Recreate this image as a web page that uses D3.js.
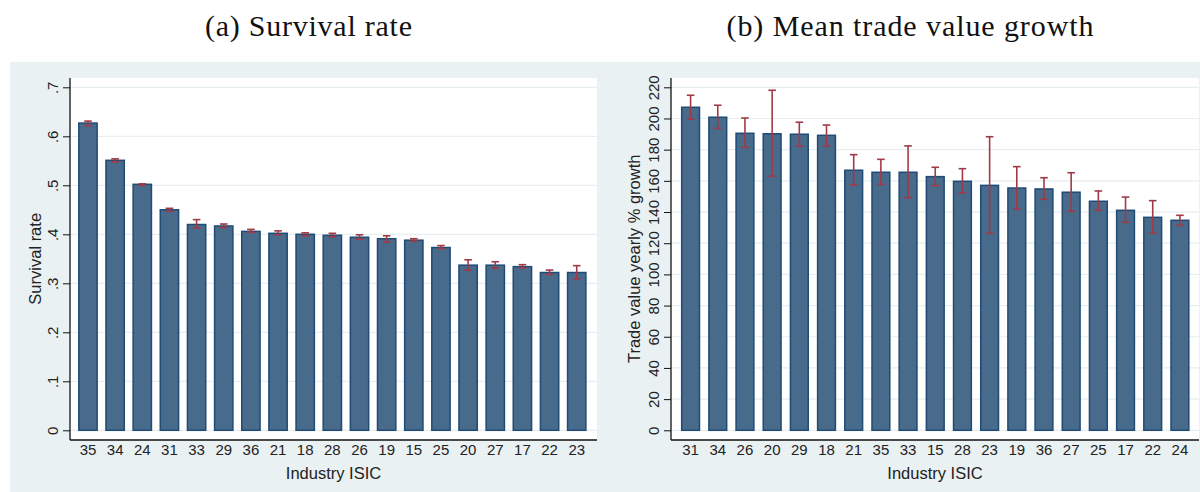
<!DOCTYPE html>
<html>
<head>
<meta charset="utf-8">
<script src="https://cdn.jsdelivr.net/npm/d3@7"></script>
<style>
  html, body { margin: 0; padding: 0; background: #ffffff; }
  svg { display: block; }
</style>
</head>
<body>
<svg id="chart" width="1200" height="492"></svg>
<script>
// Panel (a): survival rate by industry (ISIC), with 95% intervals
const survivalIndustries = ["35","34","24","31","33","29","36","21","18","28","26","19","15","25","20","27","17","22","23"];
const survivalRate  = [0.627,0.551,0.502,0.450,0.420,0.417,0.406,0.402,0.400,0.398,0.394,0.391,0.388,0.373,0.337,0.337,0.334,0.322,0.322];
const survivalLow   = [0.622,0.548,0.500,0.447,0.413,0.414,0.404,0.399,0.397,0.395,0.390,0.384,0.386,0.371,0.327,0.331,0.331,0.318,0.309];
const survivalHigh  = [0.631,0.554,0.503,0.453,0.430,0.421,0.410,0.407,0.403,0.402,0.399,0.397,0.391,0.377,0.348,0.344,0.338,0.327,0.336];
const survivalTicks = [0,0.1,0.2,0.3,0.4,0.5,0.6,0.7];

// Panel (b): mean yearly trade value growth by industry (ISIC), with 95% intervals
const growthIndustries = ["31","34","26","20","29","18","21","35","33","15","28","23","19","36","27","25","17","22","24"];
const growthMean  = [207.2,200.8,190.5,190.2,189.9,189.2,166.8,165.5,165.5,162.7,159.7,157.1,155.4,154.8,152.7,146.9,141.1,136.6,134.7];
const growthLow   = [199.5,193.7,181.5,162.9,182.4,182.4,157.5,157.8,149.2,156.9,152.2,126.4,141.9,148.2,140.5,141.1,133.4,126.4,131.5];
const growthHigh  = [214.9,208.5,200.3,218.1,197.6,195.8,176.8,173.8,182.4,168.7,167.8,188.3,169.1,162.0,165.2,153.5,149.6,147.3,137.9];
const growthTicks = [0,20,40,60,80,100,120,140,160,180,200,220];

const svg = d3.select("#chart");

const COLORS = {
  panel: "#eaf1f3",
  plot: "#ffffff",
  grid: "#e6eef1",
  barFill: "#486a8b",
  barStroke: "#1f4b74",
  ci: "#a13a47",
  text: "#222222",
  axis: "#111111"
};
const SANS = "'Liberation Sans', Arial, sans-serif";
const SERIF = "'Liberation Serif', 'Times New Roman', serif";

function drawPanel(cfg) {
  const g = svg.append("g");

  // panel background and plot region
  g.append("rect").attr("x", cfg.panel[0]).attr("y", cfg.panel[1])
    .attr("width", cfg.panel[2]).attr("height", cfg.panel[3]).attr("fill", COLORS.panel);
  g.append("rect").attr("x", cfg.plot[0]).attr("y", cfg.plot[1])
    .attr("width", cfg.plot[2]).attr("height", cfg.plot[3]).attr("fill", COLORS.plot);

  const x = d3.scaleBand().domain(cfg.cats).range(cfg.xRange)
    .paddingInner(cfg.pad).paddingOuter(cfg.pad / 2);
  const y = d3.scaleLinear().domain(cfg.yDomain).range(cfg.yRange);

  const left = cfg.plot[0];
  const right = cfg.plot[0] + cfg.plot[2];
  const bottom = cfg.plot[1] + cfg.plot[3];

  // horizontal gridlines
  g.append("g").selectAll("line").data(cfg.ticks).join("line")
    .attr("x1", left).attr("x2", right)
    .attr("y1", d => y(d)).attr("y2", d => y(d))
    .attr("stroke", COLORS.grid).attr("stroke-width", 1.2);

  // bars
  const rows = cfg.cats.map((c, i) => ({ c, v: cfg.values[i], lo: cfg.low[i], hi: cfg.high[i] }));
  g.append("g").selectAll("rect").data(rows).join("rect")
    .attr("x", d => x(d.c) + 0.75)
    .attr("y", d => y(d.v))
    .attr("width", x.bandwidth() - 1.5)
    .attr("height", d => y(0) - y(d.v))
    .attr("fill", COLORS.barFill)
    .attr("stroke", COLORS.barStroke)
    .attr("stroke-width", 1.5);

  // confidence intervals
  const ci = g.append("g").attr("stroke", COLORS.ci).attr("stroke-width", 1.6).attr("fill", "none");
  const cap = 3.8;
  rows.forEach(d => {
    const cx = x(d.c) + x.bandwidth() / 2;
    ci.append("line").attr("x1", cx).attr("x2", cx).attr("y1", y(d.lo)).attr("y2", y(d.hi));
    ci.append("line").attr("x1", cx - cap).attr("x2", cx + cap).attr("y1", y(d.lo)).attr("y2", y(d.lo));
    ci.append("line").attr("x1", cx - cap).attr("x2", cx + cap).attr("y1", y(d.hi)).attr("y2", y(d.hi));
  });

  // y axis with rotated tick labels
  const yAxis = g.append("g").attr("transform", `translate(${left},0)`)
    .call(d3.axisLeft(y).tickValues(cfg.ticks).tickSize(7).tickSizeOuter(0).tickFormat(cfg.fmt));
  yAxis.select(".domain").remove();
  yAxis.selectAll(".tick line").attr("stroke", COLORS.axis).attr("stroke-width", 1);
  yAxis.selectAll(".tick text")
    .attr("transform", "rotate(-90)")
    .attr("x", 0).attr("y", -12).attr("dy", null)
    .attr("text-anchor", "middle")
    .attr("font-family", SANS).attr("font-size", 15).attr("fill", COLORS.text);

  g.append("line").attr("x1", left).attr("x2", left)
    .attr("y1", cfg.plot[1]).attr("y2", bottom)
    .attr("stroke", COLORS.axis).attr("stroke-width", 1.3);

  // x axis
  const xAxis = g.append("g").attr("transform", `translate(0,${bottom})`)
    .call(d3.axisBottom(x).tickSize(0).tickSizeOuter(0));
  xAxis.select(".domain").remove();
  xAxis.selectAll(".tick text")
    .attr("y", 14.5).attr("dy", null)
    .attr("font-family", SANS).attr("font-size", 15).attr("fill", COLORS.text);
  g.append("line").attr("x1", left).attr("x2", right)
    .attr("y1", bottom).attr("y2", bottom)
    .attr("stroke", COLORS.axis).attr("stroke-width", 1.3);

  // axis titles
  g.append("text")
    .attr("x", (left + right) / 2).attr("y", 478.5)
    .attr("text-anchor", "middle")
    .attr("font-family", SANS).attr("font-size", 16.5).attr("fill", COLORS.text)
    .text("Industry ISIC");
  g.append("text")
    .attr("transform", `translate(${cfg.yTitleX},${(cfg.yRange[0] + cfg.yRange[1]) / 2}) rotate(-90)`)
    .attr("text-anchor", "middle")
    .attr("font-family", SANS).attr("font-size", 16.5).attr("fill", COLORS.text)
    .text(cfg.yTitle);

  // panel caption
  svg.append("text")
    .attr("x", cfg.caption[0]).attr("y", 36)
    .attr("text-anchor", "middle")
    .attr("font-family", SERIF).attr("font-size", 30).attr("fill", "#111")
    .attr("textLength", cfg.caption[1]).attr("lengthAdjust", "spacing")
    .text(cfg.title);
}

drawPanel({
  title: "(a) Survival rate",
  caption: [308.5, 207],
  panel: [10, 62, 590, 430],
  plot: [70, 78, 527, 362],
  cats: survivalIndustries,
  values: survivalRate, low: survivalLow, high: survivalHigh,
  ticks: survivalTicks,
  fmt: d => d === 0 ? "0" : d3.format(".1f")(d).replace(/^0/, ""),
  xRange: [74.4, 590.3], pad: 0.27,
  yDomain: [0, 0.7], yRange: [430.3, 87.3],
  yTitle: "Survival rate", yTitleX: 40.5
});

drawPanel({
  title: "(b) Mean trade value growth",
  caption: [910, 367],
  panel: [600, 62, 600, 430],
  plot: [671, 78, 528, 362],
  cats: growthIndustries,
  values: growthMean, low: growthLow, high: growthHigh,
  ticks: growthTicks,
  fmt: d3.format("d"),
  xRange: [677, 1193.5], pad: 0.29,
  yDomain: [0, 220], yRange: [430.3, 87.3],
  yTitle: "Trade value yearly % growth", yTitleX: 640
});
</script>
</body>
</html>
